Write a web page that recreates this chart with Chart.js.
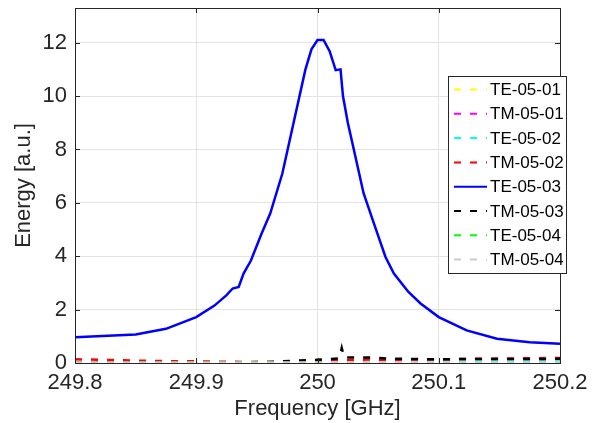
<!DOCTYPE html>
<html>
<head>
<meta charset="utf-8">
<script src="https://cdn.jsdelivr.net/npm/chart.js@4/dist/chart.umd.min.js"></script>
<style>
  html, body { margin: 0; padding: 0; background: #fff; }
  #wrap { width: 593px; height: 423px; }
</style>
</head>
<body>
<div id="wrap"><canvas id="energyChart" width="593" height="423"></canvas></div>
<script>
// frequency grid of the weak modes [GHz]
const freqGrid = [249.80, 249.82, 249.84, 249.86, 249.88, 249.90, 249.92, 249.94, 249.96, 249.98,
                  250.00, 250.02, 250.04, 250.06, 250.08, 250.10, 250.12, 250.14, 250.16, 250.18, 250.20];

// TE-05-03 (main resonance)
const freqTE0503 = [249.80, 249.85, 249.875, 249.90, 249.915, 249.925, 249.93, 249.935, 249.939, 249.945,
                    249.954, 249.961, 249.971, 249.979, 249.99, 249.995, 250.0, 250.005, 250.01, 250.015,
                    250.019, 250.021, 250.025, 250.03, 250.038, 250.0465, 250.056, 250.063, 250.075, 250.085,
                    250.10, 250.123, 250.148, 250.175, 250.20];
const energyTE0503 = [0.96, 1.07, 1.28, 1.72, 2.15, 2.54, 2.79, 2.85, 3.35, 3.83,
                      4.86, 5.6, 7.1, 8.74, 10.99, 11.75, 12.1, 12.1, 11.68, 10.97,
                      11.0, 10.0, 9.0, 7.99, 6.36, 5.23, 3.98, 3.35, 2.66, 2.23,
                      1.72, 1.22, 0.91, 0.78, 0.72];

// TM-05-03 has a narrow spike near 250.02 GHz
const freqTM0503 = [249.80, 249.84, 249.88, 249.92, 249.96, 249.98, 250.00, 250.01, 250.018, 250.020,
                    250.022, 250.03, 250.045, 250.06, 250.08, 250.10, 250.12, 250.14, 250.16, 250.18, 250.20];
const energyTM0503 = [0.01, 0.02, 0.03, 0.02, 0.04, 0.08, 0.12, 0.15, 0.17, 0.56,
                      0.2, 0.21, 0.21, 0.16, 0.15, 0.14, 0.15, 0.15, 0.15, 0.15, 0.16];

const energyTE0501 = [0.01, 0.01, 0.01, 0.01, 0.01, 0.01, 0.01, 0.01, 0.01, 0.01,
                      0.01, 0.02, 0.01, 0.01, 0.01, 0.01, 0.01, 0.01, 0.01, 0.01, 0.01];
const energyTM0501 = [0.02, 0.02, 0.02, 0.02, 0.02, 0.02, 0.02, 0.02, 0.02, 0.02,
                      0.02, 0.03, 0.03, 0.03, 0.03, 0.04, 0.04, 0.04, 0.04, 0.04, 0.04];
const energyTE0502 = [0.02, 0.02, 0.02, 0.02, 0.02, 0.02, 0.02, 0.02, 0.02, 0.02,
                      0.03, 0.04, 0.05, 0.05, 0.06, 0.07, 0.07, 0.07, 0.07, 0.07, 0.07];
const energyTM0502 = [0.14, 0.12, 0.10, 0.08, 0.07, 0.06, 0.05, 0.04, 0.04, 0.05,
                      0.06, 0.10, 0.13, 0.12, 0.13, 0.14, 0.15, 0.16, 0.17, 0.18, 0.19];
const energyTE0504 = [0.005, 0.005, 0.005, 0.005, 0.005, 0.005, 0.005, 0.005, 0.005, 0.005,
                      0.005, 0.005, 0.005, 0.005, 0.005, 0.005, 0.005, 0.005, 0.005, 0.005, 0.005];
const energyTM0504 = [0.02, 0.02, 0.02, 0.02, 0.02, 0.02, 0.02, 0.02, 0.02, 0.02,
                      0.02, 0.03, 0.03, 0.03, 0.03, 0.03, 0.03, 0.03, 0.03, 0.03, 0.03];

const xTicks = [249.8, 249.9, 250, 250.1, 250.2];
const yTicks = [0, 2, 4, 6, 8, 10, 12];

const fontFamily = "'Liberation Sans', Arial, Helvetica, sans-serif";
const dash = [7, 9];

function pts(xs, ys) {
    return xs.map((x, i) => ({ x: x, y: ys[i] }));
}

const series = [
    { label: 'TE-05-01', color: '#ffff00', data: pts(freqGrid, energyTE0501), dashed: true },
    { label: 'TM-05-01', color: '#ff00ff', data: pts(freqGrid, energyTM0501), dashed: true },
    { label: 'TE-05-02', color: '#00ffff', data: pts(freqGrid, energyTE0502), dashed: true },
    { label: 'TM-05-02', color: '#ff0000', data: pts(freqGrid, energyTM0502), dashed: true },
    { label: 'TE-05-03', color: '#0000ff', data: pts(freqTE0503, energyTE0503), dashed: false },
    { label: 'TM-05-03', color: '#000000', data: pts(freqTM0503, energyTM0503), dashed: true },
    { label: 'TE-05-04', color: '#00ff00', data: pts(freqGrid, energyTE0504), dashed: true },
    { label: 'TM-05-04', color: '#cccccc', data: pts(freqGrid, energyTM0504), dashed: true }
];

// plot frame, inward ticks and the legend box (matlab look)
const framePlugin = {
    id: 'frame',
    afterDatasetsDraw(chart) {
        const ctx = chart.ctx;
        const a = chart.chartArea;
        const xs = chart.scales.x;
        const ys = chart.scales.y;
        ctx.save();
        ctx.strokeStyle = '#262626';
        ctx.lineWidth = 1;
        ctx.setLineDash([]);
        ctx.strokeRect(Math.round(a.left) + 0.5, Math.round(a.top) + 0.5,
            Math.round(a.right - a.left), Math.round(a.bottom - a.top));
        const tl = 5;
        ctx.beginPath();
        xTicks.forEach(v => {
            const px = Math.round(xs.getPixelForValue(v)) + 0.5;
            ctx.moveTo(px, a.bottom); ctx.lineTo(px, a.bottom - tl);
            ctx.moveTo(px, a.top); ctx.lineTo(px, a.top + tl);
        });
        yTicks.forEach(v => {
            const py = Math.round(ys.getPixelForValue(v)) + 0.5;
            ctx.moveTo(a.left, py); ctx.lineTo(a.left + tl, py);
            ctx.moveTo(a.right, py); ctx.lineTo(a.right - tl, py);
        });
        ctx.stroke();

        // legend
        const lx = 448.5, ly = 76.5, lw = 118, lh = 197;
        ctx.fillStyle = '#ffffff';
        ctx.fillRect(lx, ly, lw, lh);
        ctx.strokeStyle = '#262626';
        ctx.strokeRect(lx, ly, lw, lh);
        ctx.font = '17px ' + fontFamily;
        ctx.textBaseline = 'middle';
        chart.data.datasets.forEach((ds, i) => {
            const y = 89.5 + i * 24.3;
            ctx.strokeStyle = ds.borderColor;
            ctx.lineWidth = 2;
            ctx.setLineDash(ds.borderDash || []);
            ctx.beginPath();
            ctx.moveTo(454, y);
            ctx.lineTo(487, y);
            ctx.stroke();
            ctx.setLineDash([]);
            ctx.fillStyle = '#000000';
            ctx.fillText(ds.label, 490, y + 1);
        });
        ctx.restore();
    }
};

const ctx = document.getElementById('energyChart').getContext('2d');
new Chart(ctx, {
    type: 'line',
    data: {
        datasets: series.map((s, i) => ({
            label: s.label,
            data: s.data,
            borderColor: s.color,
            backgroundColor: s.color,
            borderWidth: 2.5,
            borderDash: s.dashed ? dash : [],
            pointRadius: 0,
            tension: 0,
            fill: false,
            order: series.length - i
        }))
    },
    options: {
        responsive: false,
        animation: false,
        devicePixelRatio: 1,
        layout: { padding: { top: 8, right: 33, left: 0, bottom: 0 } },
        plugins: {
            legend: { display: false },
            tooltip: { enabled: false }
        },
        scales: {
            x: {
                type: 'linear',
                min: 249.8,
                max: 250.2,
                afterFit: scale => {
                    scale.height = 60;
                    scale.paddingLeft = 0;
                    scale.paddingRight = 0;
                },
                afterBuildTicks: scale => { scale.ticks = xTicks.map(v => ({ value: v })); },
                ticks: {
                    color: '#262626',
                    font: { family: fontFamily, size: 22 },
                    padding: 7,
                    maxRotation: 0,
                    autoSkip: false,
                    callback: v => String(parseFloat(Number(v).toFixed(1)))
                },
                grid: { color: '#e3e3e3', drawTicks: false },
                border: { color: '#262626' },
                title: {
                    display: true,
                    text: 'Frequency [GHz]',
                    color: '#262626',
                    font: { family: fontFamily, size: 22 },
                    padding: { top: 0, bottom: 1 }
                }
            },
            y: {
                min: 0,
                max: 13.3,
                afterFit: scale => {
                    scale.width = 75;
                    scale.paddingTop = 0;
                    scale.paddingBottom = 0;
                },
                afterBuildTicks: scale => { scale.ticks = yTicks.map(v => ({ value: v })); },
                ticks: {
                    color: '#262626',
                    font: { family: fontFamily, size: 22 },
                    padding: 8,
                    autoSkip: false
                },
                grid: { color: '#e3e3e3', drawTicks: false },
                border: { color: '#262626' },
                title: {
                    display: true,
                    text: 'Energy [a.u.]',
                    color: '#262626',
                    font: { family: fontFamily, size: 22 },
                    padding: { top: 11, bottom: 0 }
                }
            }
        }
    },
    plugins: [framePlugin]
});
</script>
</body>
</html>
